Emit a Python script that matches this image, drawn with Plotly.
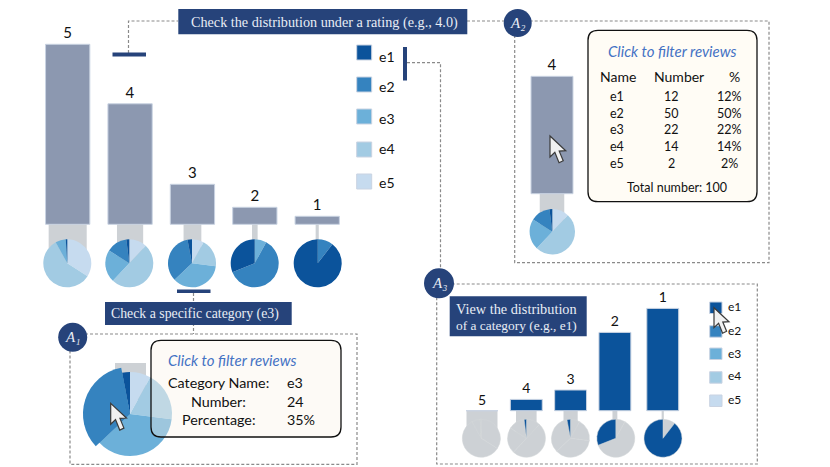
import plotly.graph_objects as go

W, H = 830, 467

# ---------- data ----------
RATINGS = ["5", "4", "3", "2", "1"]
RATING_COUNTS = [180, 120.5, 40, 17, 8]
STEM_SHARE = [0.61, 0.42, 0.285, 0.09, 0.05]
CATEGORIES = ["e1", "e2", "e3", "e4", "e5"]
PIE_5 = [1, 0, 7, 58, 34]
PIE_4 = [2, 14, 22, 50, 12]
PIE_3 = [3, 34, 36, 19, 8]
PIE_2 = [31, 61, 8, 0, 0]
PIE_1 = [89.5, 10.5, 0, 0, 0]
E1_COUNTS = [0, 11.3, 20.7, 78.3, 102.3]
E1_STEM_SHARE = [0.70, 0.465, 0.32, 0.11, 0.05]
TABLE_NAMES = ["e1", "e2", "e3", "e4", "e5"]
TABLE_NUMBERS = ["12", "50", "22", "14", "2"]
TABLE_PCT = ["12%", "50%", "22%", "14%", "2%"]

# ---------- styles ----------
COLORS = ["#0b539b", "#3583bf", "#6cb0d9", "#a2cbe3", "#c6dbef"]
BAR = "#8c98b0"
EDGE = "#c9d3e2"
STEM = "#cdd1d5"
NAVY = "#26437a"
DASH = "#8a8a8a"
SERIF = "Liberation Serif"
SANS = "Lato"


def X(px):
    return px / W


def Y(py):
    return 1 - py / H


shapes, notes, traces = [], [], []


def rect(x0, y0, x1, y1, fill, line=None, lw=0):
    shapes.append(dict(type="rect", xref="paper", yref="paper", x0=X(x0), x1=X(x1),
                       y0=Y(y1), y1=Y(y0), fillcolor=fill, layer="above",
                       line=dict(color=line or fill, width=lw)))


def path(points, dash=True):
    d = "M" + " L".join(f"{X(a):.5f},{Y(b):.5f}" for a, b in points)
    shapes.append(dict(type="path", xref="paper", yref="paper", path=d, layer="above",
                       line=dict(color=DASH, width=1.2, dash="3px,2px" if dash else "solid")))


def dashed_box(x0, y0, x1, y1):
    path([(x0, y0), (x1, y0), (x1, y1), (x0, y1), (x0, y0)])


def card(x0, y0, x1, y1, fill, r=10):
    p = (f"M{X(x0+r)},{Y(y0)} L{X(x1-r)},{Y(y0)} Q{X(x1)},{Y(y0)} {X(x1)},{Y(y0+r)} "
         f"L{X(x1)},{Y(y1-r)} Q{X(x1)},{Y(y1)} {X(x1-r)},{Y(y1)} "
         f"L{X(x0+r)},{Y(y1)} Q{X(x0)},{Y(y1)} {X(x0)},{Y(y1-r)} "
         f"L{X(x0)},{Y(y0+r)} Q{X(x0)},{Y(y0)} {X(x0+r)},{Y(y0)} Z")
    shapes.append(dict(type="path", xref="paper", yref="paper", path=p, layer="above",
                       fillcolor=fill, line=dict(color="#111111", width=1.3)))


def cursor(x, y, k=1.0):
    arrow = [(0, 0), (0, 20), (4.6, 15.5), (8.6, 25.5), (12.6, 23.6), (8.8, 14.4), (15, 14)]
    d = "M" + " L".join(f"{X(x+a*k):.5f},{Y(y+b*k):.5f}" for a, b in arrow) + " Z"
    shapes.append(dict(type="path", xref="paper", yref="paper", path=d, layer="above",
                       fillcolor="#f1f1f1", line=dict(color="#3a3a3a", width=1.2)))


def txt(x, y, s, size, color="#111111", anchor="center", family=SANS, style="normal"):
    notes.append(dict(x=X(x), y=Y(y), xref="paper", yref="paper", text=s, showarrow=False,
                      xanchor=anchor, yanchor="middle", align="left", borderpad=0, borderwidth=0,
                      font=dict(family=family, size=size, color=color, style=style)))


def badge(cx, cy, r, sub):
    shapes.append(dict(type="circle", xref="paper", yref="paper", x0=X(cx-r), x1=X(cx+r),
                       y0=Y(cy+r), y1=Y(cy-r), fillcolor=NAVY, layer="above", line=dict(width=0)))
    txt(cx, cy, "A" + sub, 15, "#e8edf5", family=SERIF, style="italic")


def pie(values, cx, cy, r, colors, line=None):
    # Slices run clockwise from 12 o'clock, last category first, so e1 ends at the top.
    traces.append(go.Pie(values=list(values)[::-1], labels=CATEGORIES[::-1], sort=False, direction="clockwise",
                         rotation=0, textinfo="none", hoverinfo="skip", showlegend=False,
                         marker=dict(colors=list(colors)[::-1],
                                     line=dict(color=line or "rgba(0,0,0,0)", width=0.5 if line else 0)),
                         domain=dict(x=[X(cx-r), X(cx+r)], y=[Y(cy+r), Y(cy-r)])))


layout_axes = {}


def panel(i, x0, x1, y0, y1, base_py, scale, cats):
    """Axis pair occupying the given pixel box; scale = pixels per data unit."""
    s = "" if i == 1 else str(i)
    layout_axes[f"xaxis{s}"] = dict(domain=[X(x0), X(x1)], anchor=f"y{s}", visible=False, type="category",
                                    categoryorder="array", categoryarray=cats,
                                    range=[-0.5, len(cats) - 0.5], fixedrange=True)
    layout_axes[f"yaxis{s}"] = dict(domain=[Y(y1), Y(y0)], anchor=f"x{s}", visible=False,
                                    range=[(base_py - y1) / scale, (base_py - y0) / scale], fixedrange=True)
    return ("x" + s, "y" + s)


def bars(ax, cats, vals, widths, color, edge=None, text=None, size=15, offset=None):
    traces.append(go.Bar(x=cats, y=vals, width=widths, xaxis=ax[0], yaxis=ax[1], offset=offset,
                         marker=dict(color=color, line=dict(color=edge or color, width=1 if edge else 0)),
                         text=text, textposition="outside" if text else None, cliponaxis=False,
                         textfont=dict(family=SANS, size=size, color="#111111"),
                         hoverinfo="skip", showlegend=False))


# ---------- main rating chart ----------
ax = panel(1, 36.5, 348.4, 20, 263, 224.3, 1.0, RATINGS)
bars(ax, RATINGS, [-39] * 5, STEM_SHARE, STEM)
bars(ax, RATINGS, RATING_COUNTS, [0.71] * 5, BAR, EDGE, RATINGS)
for vals, cx in zip([PIE_5, PIE_4, PIE_3, PIE_2, PIE_1], [67.3, 129.3, 192, 254.7, 317.7]):
    pie(vals, cx, 263.3, 24, COLORS)

# ---------- A2 panel ----------
ax = panel(2, 520, 584, 55, 232, 193.7, 0.974, ["4"])
bars(ax, ["4"], [-38], [0.383], STEM)
bars(ax, ["4"], [RATING_COUNTS[1]], [0.656], BAR, EDGE, ["4"])
pie(PIE_4, 552.3, 231.7, 22.7, COLORS)

# ---------- A1 panel ----------
ax = panel(3, 115, 146, 360, 400, 363, 1.0, ["3"])
bars(ax, ["3"], [-37], [1.0], STEM)
pie(PIE_3, 130, 414, 42, COLORS)
pie(PIE_3, 130, 414, 47, ["rgba(0,0,0,0)", COLORS[1]] + ["rgba(0,0,0,0)"] * 3)

# ---------- A3 panel ----------
ax = panel(4, 459.85, 681.35, 295, 438, 410.7, 1.0, RATINGS)
shift = [0, 0, 0, 0, 0.08]
w3 = [0.72] * 5
bars(ax, RATINGS, [-27] * 5, E1_STEM_SHARE, STEM,
     offset=[-a / 2 + b for a, b in zip(E1_STEM_SHARE, shift)])
bars(ax, RATINGS, E1_COUNTS, w3, COLORS[0], EDGE, RATINGS, size=14,
     offset=[-a / 2 + b for a, b in zip(w3, shift)])
GREY = [COLORS[0], STEM, STEM, STEM, STEM]
for vals, count, cx in zip([PIE_5, PIE_4, PIE_3, PIE_2, PIE_1], E1_COUNTS, [481.3, 526.5, 570.5, 615.8, 663]):
    pie(vals, cx, 438.3, 19, GREY if count else [STEM] * 5, line="#d3d6d9")

# ---------- connectors and dashed frames ----------
path([(128.5, 53), (128.5, 21), (178, 21)])
path([(467, 21), (515, 21)])
path([(193.5, 293), (193.5, 334)])
path([(407, 62.7), (440.5, 62.7), (440.5, 272)])
dashed_box(514.7, 21, 769, 262.7)
dashed_box(70, 334, 357, 464.3)
dashed_box(436.7, 284, 757.3, 464)

# ---------- selection marks ----------
rect(112.5, 52.5, 146, 56.5, NAVY)
rect(177, 289.5, 210.5, 293, NAVY)
rect(403, 47, 407, 80.5, NAVY)

# ---------- banners ----------
rect(178.3, 9, 467.3, 34.3, NAVY)
txt(324, 22, "Check the distribution under a rating (e.g., 4.0)", 14.2, "#e8edf5", family=SERIF)
rect(105, 302, 291.7, 325, NAVY)
txt(195, 314, "Check a specific category (e3)", 13.8, "#e8edf5", family=SERIF)
rect(449.7, 296.3, 586.7, 336.3, NAVY)
txt(456, 308.5, "View the distribution", 14.3, "#e8edf5", "left", SERIF)
txt(456, 325, "of a category (e.g., e1)", 13.4, "#e8edf5", "left", SERIF)

# ---------- legends ----------
for name, color, y0, ty in zip(CATEGORIES, COLORS, [45, 77, 109, 142, 174], [56, 86, 118, 149, 182]):
    rect(356.7, y0, 371.7, y0 + 15, color, EDGE, 1)
    txt(379, ty, name, 14, anchor="left")
for name, color, y0, ty in zip(CATEGORIES, COLORS, [302, 325.7, 348, 371.7, 395], [306.5, 330, 353, 375.5, 399.5]):
    rect(709.7, y0, 722, y0 + 11.5, color, EDGE, 1)
    txt(728, ty, name, 12, anchor="left")

# ---------- cards ----------
card(588, 30.3, 757, 201.7, "#fffcf5")
txt(672.5, 50.5, "Click to filter reviews", 15, "#4472c4", style="italic")
txt(618, 76, "Name", 14)
txt(679, 76, "Number", 14)
txt(734, 76, "%", 14)
for name, num, pct, ty in zip(TABLE_NAMES, TABLE_NUMBERS, TABLE_PCT, [96.5, 113, 129.5, 146.5, 163]):
    txt(617, ty, name, 12.5)
    txt(671, ty, num, 12.5)
    txt(729, ty, pct, 12.5)
txt(677, 188, "Total number: 100", 12.5)

card(151, 340.3, 341, 437, "rgba(250,242,228,0.35)")
txt(168, 360, "Click to filter reviews", 15, "#4472c4", "left", style="italic")
for label, val, ty in zip(["Category Name:", "Number:", "Percentage:"], ["e3", "24", "35%"], [382.7, 401, 419.7]):
    txt(218, ty, label, 14.3)
    txt(287, ty, val, 14.3, anchor="left")

# ---------- badges and cursors ----------
badge(517.7, 23, 14, "₂")
badge(72.7, 337.3, 14.5, "₁")
badge(439, 283.3, 15, "₃")
cursor(550, 136, 1.05)
cursor(110.7, 403.3, 1.05)
cursor(714, 307.7, 1.0)

fig = go.Figure(traces)
fig.update_layout(width=W, height=H, margin=dict(l=0, r=0, t=0, b=0, pad=0), autosize=False,
                  paper_bgcolor="white", plot_bgcolor="rgba(0,0,0,0)", barmode="overlay",
                  shapes=shapes, annotations=notes, showlegend=False, **layout_axes)
fig.write_html("out.html", config={"displayModeBar": False},
               post_script="document.body.style.margin='0';document.body.style.overflow='hidden';")
